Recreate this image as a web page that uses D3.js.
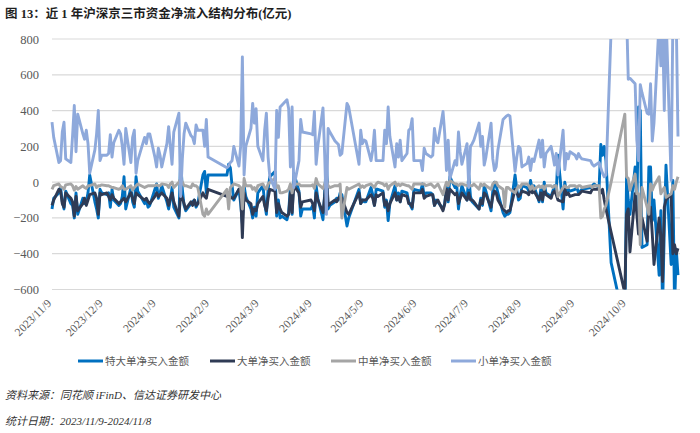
<!DOCTYPE html>
<html><head><meta charset="utf-8">
<script src="https://cdn.jsdelivr.net/npm/d3@7"></script>
<style>body{margin:0;background:#fff}svg{display:block}</style>
</head><body>
<svg id="c" width="700" height="433"></svg>
<script>
// ---- data ----
const startDate = "2023-11-09", endDate = "2024-11-08";
const holidays = ["2024-01-01","2024-02-09","2024-02-12","2024-02-13","2024-02-14","2024-02-15","2024-02-16",
  "2024-04-04","2024-04-05","2024-05-01","2024-05-02","2024-05-03","2024-06-10","2024-09-16","2024-09-17",
  "2024-10-01","2024-10-02","2024-10-03","2024-10-04","2024-10-07"];
const yTicks = [-600,-400,-200,0,200,400,600,800];
const xTickLabels = ["2023/11/9","2023/12/9","2024/1/9","2024/2/9","2024/3/9","2024/4/9","2024/5/9",
  "2024/6/9","2024/7/9","2024/8/9","2024/9/9","2024/10/9"];
const seriesNames = ["特大单净买入金额","大单净买入金额","中单净买入金额","小单净买入金额"];

// 特大单
const xlNet = [
 -150,-90,-60,-30,-110,-150,-50,-120,-130,-200,-60,-180,-90,-120,-110,-60,
 40,-110,-150,-200,-40,-60,-70,-60,-140,-40,-100,-130,-120,-80,30,-150,-30,-110,-140,30,-50,
 -120,-100,-140,-130,-40,-10,-90,-60,-20,-110,-150,-100,-30,-140,-200,130,-40,-130,-160,-120,-110,-100,
 -140,-120,40,60,-60,40,40,100,80,-20,-100,-40,-120,-230,-20,
 -80,-150,-200,-140,-190,-60,-20,-120,-180,-40,30,60,-190,-100,-200,-190,-210,-170,-20,-180,50,
 -50,-190,-150,-150,-130,-200,-20,-90,-210,-60,120,-150,-130,-110,-90,-100,-60,-70,-245,-200,
 -40,-120,-100,-110,-110,-30,-70,-130,-40,-40,-50,-140,-100,-215,-120,-20,-100,-60,-110,-50,
 -60,-110,-130,-150,-40,-50,-10,-80,-60,-60,-70,-130,-100,-110,-150,-120,-20,-110,30,
 -30,-20,-150,-70,-20,-100,40,-80,-110,-120,-150,-90,-130,-20,-50,-160,-50,0,-20,-60,-170,-190,-180,
 -180,-170,40,-40,-100,-90,-20,-30,-50,10,-40,-20,-110,-40,-110,0,-60,-80,-50,-20,-60,150,
 -150,0,-60,-40,-50,-40,-30,-60,-50,-40,-30,-20,-10,-30,210,150,200,120,-450,
 -800,30,-100,-180,85,-150,420,400,-365,-350,85,85,-215,-100,-520,-160,-700,-275,
 95,-460,10,-700,-375,-520
];
// 大单
const lNet = [
 -130,-100,-40,-50,-120,-140,-60,-90,-110,-190,-80,-160,-120,-90,-130,-100,
 -70,-60,-90,-180,-60,-70,-60,-80,-100,-70,-90,-120,-110,-100,-90,-110,-60,-90,-120,-60,-70,
 -100,-90,-110,-120,-80,-60,-80,-70,-60,-90,-130,-90,-60,-110,-190,-70,-90,-120,-150,-110,-130,-100,
 -130,-120,-60,-80,-90,-40,-80,-60,-80,-90,-90,-40,-60,-310,-60,
 -100,-120,-180,-150,-160,-120,-80,-130,-160,-90,-40,-50,-170,-120,-150,-170,-190,-180,-60,-170,-20,
 -60,-140,-110,-100,-120,-160,-60,-100,-170,-80,50,-130,-120,-100,-110,-90,-80,-90,-170,-180,
 -60,-120,-100,-100,-100,-70,-90,-130,-70,-80,-60,-130,-110,-160,-120,-60,-100,-80,-110,-70,
 -80,-120,-120,-140,-60,-60,-40,-90,-80,-70,-70,-130,-110,-100,-160,-120,-40,-100,-40,
 -70,-60,-120,-90,-60,-100,-60,-100,-100,-110,-150,-100,-120,-60,-70,-140,-80,-50,-60,-100,-150,-160,-170,
 -160,-160,-40,-60,-80,-70,-50,-60,-70,-30,-60,-50,-100,-60,-100,-40,-70,-90,-60,-50,-70,-100,
 -110,-40,-70,-60,-80,-70,-70,-70,-60,-50,-60,-40,-40,-40,-60,-40,-100,-150,-280,
 -620,-180,-150,-390,-65,-180,-290,-290,-200,-330,-140,-140,-290,-460,-200,-300,-555,-140,
 -100,-65,-400,-350,-400,-370
];
// 中单
const mNet = [
 -40,-20,-10,-25,-30,-40,-15,-10,-20,-45,-25,-40,-20,-30,-35,-20,
 -20,-10,-30,-20,-20,-15,-20,-20,-25,-30,-30,-40,-35,-20,-40,-40,-20,-45,-30,-20,-10,
 -30,-25,-20,-20,-20,-15,-20,-20,-10,-15,-30,-10,0,-30,0,20,0,-20,-20,-30,-10,-20,
 -20,-30,-180,-190,-150,-180,-40,-150,-30,-20,-10,-20,-30,-150,20,
 -20,-20,-40,-30,-50,-20,-10,-30,-40,-10,0,20,-30,-20,-60,-60,-50,-40,-10,-60,-10,
 -10,-20,-20,-20,-15,-35,20,-10,-35,-10,10,-20,-30,-20,-20,-20,-10,-200,-30,-40,
 -10,-30,-20,-30,-20,-10,-20,-30,-10,0,-10,-20,-10,-40,-20,0,-20,-10,-20,-10,
 -20,-20,-30,-40,-10,-10,-10,-10,-20,-10,-20,-30,-20,-10,-70,-30,0,-20,10,
 -10,-10,-20,-10,-10,-20,-10,-20,-20,-10,-40,-10,-20,-10,-20,-40,-10,0,0,-20,-40,-140,-30,
 -30,-40,-60,-40,-20,-30,-10,-10,-20,-40,-20,-40,-20,-30,-20,-40,-20,-20,-30,-20,-20,-80,
 -30,-20,-30,-30,-20,-20,-30,-20,-20,-30,-20,-30,-20,-20,-200,-190,-150,-130,0,
 380,30,20,-45,45,-65,-65,-350,-30,-140,-180,-10,-45,-20,30,-65,-45,-30,
 -85,-65,-20,-40,0,30
];
// 小单
const sNet = [
 335,250,110,120,280,335,130,110,260,428,170,380,270,240,290,215,
 50,180,270,400,120,150,150,160,265,140,220,290,270,200,100,300,110,250,290,50,120,
 250,215,270,270,140,85,190,150,85,215,310,200,100,280,385,-80,130,270,330,260,250,215,
 320,290,290,200,350,140,80,90,110,120,200,90,200,700,40,
 200,300,440,330,410,200,120,290,385,140,30,-40,400,250,420,430,460,410,85,420,-30,
 120,350,280,270,265,395,100,200,415,150,-180,300,280,230,220,210,150,160,440,420,
 100,290,215,235,230,120,180,290,120,120,120,290,215,420,255,85,215,140,235,120,
 160,290,300,355,120,120,65,190,160,140,150,300,235,220,395,270,65,235,20,
 120,95,280,170,100,215,-30,200,215,235,330,200,255,95,140,330,130,65,85,180,350,360,370,
 375,370,60,140,200,190,85,105,140,65,130,115,235,140,235,85,160,200,150,95,160,40,
 290,70,160,130,170,150,130,160,140,130,120,100,90,110,80,50,30,40,850,
 1100,950,575,580,550,235,120,545,500,385,380,550,230,330,900,650,900,400,
 950,10,900,900,900,255
];
const seriesColors = ["#0070C0","#2F3B55","#A5A5A5","#8EA9DB"];

// ---- build ----
const fmt = d3.timeFormat("%Y-%m-%d");
const p = d3.timeParse("%Y-%m-%d");
const t0 = p(startDate), t1 = p(endDate);
const hol = new Set(holidays);
const days = d3.timeDay.range(t0, d3.timeDay.offset(t1, 1))
  .filter(d => d.getDay() !== 0 && d.getDay() !== 6 && !hol.has(fmt(d)));

const svg = d3.select("#c");
const L = 52, R = 678, T = 39, B = 289.5;
const x = d3.scaleTime().domain([t0, t1]).range([L, R]);
const y = d3.scaleLinear().domain([-600, 800]).range([B, T]);
const serif = "'Liberation Serif','Noto Sans CJK SC',serif";
const cjk = "'Noto Sans CJK SC','Liberation Serif',sans-serif";

// title
svg.append("text").attr("x", 5).attr("y", 18)
  .attr("font-family", serif).attr("font-weight", "bold").attr("font-size", 12.5).attr("fill", "#1f1f1f")
  .text("图 13：近 1 年沪深京三市资金净流入结构分布(亿元)");

// grid
svg.append("g").selectAll("line").data(yTicks).join("line")
  .attr("x1", L).attr("x2", 680).attr("y1", d => y(d)).attr("y2", d => y(d))
  .attr("stroke", "#d9d9d9").attr("stroke-width", 1.2);

// y labels
const yAxis = d3.axisLeft(y).tickValues(yTicks).tickSize(0).tickPadding(0).tickFormat(d3.format("d"));
const ga = svg.append("g").attr("transform", `translate(${L - 13},0)`).call(yAxis);
ga.select(".domain").remove();
ga.selectAll("text").attr("font-family", serif).attr("font-size", 12.5).attr("fill", "#595959");

// x labels
const pl = d3.timeParse("%Y/%m/%d");
svg.append("g").selectAll("text").data(xTickLabels).join("text")
  .attr("transform", d => `translate(${x(pl(d))},${304}) rotate(-45)`)
  .attr("text-anchor", "end")
  .attr("font-family", serif).attr("font-size", 11.5).attr("fill", "#595959")
  .text(d => d);

// lines
svg.append("clipPath").attr("id", "clip").append("rect")
  .attr("x", 0).attr("y", T).attr("width", 700).attr("height", B - T);
const allSeries = [xlNet, lNet, mNet, sNet];
const gl = svg.append("g").attr("clip-path", "url(#clip)");
allSeries.forEach((vals, i) => {
  const n = Math.min(vals.length, days.length);
  const pts = d3.range(n).map(k => [days[k], vals[k]]);
  gl.append("path").datum(pts)
    .attr("fill", "none").attr("stroke", seriesColors[i]).attr("stroke-width", 2.9)
    .attr("stroke-linejoin", "round")
    .attr("d", d3.line().x(d => x(d[0])).y(d => y(d[1])));
});

// legend
const legX = [78, 210, 331, 451];
const lg = svg.append("g").selectAll("g").data(seriesNames).join("g")
  .attr("transform", (d, i) => `translate(${legX[i]},361)`);
lg.append("line").attr("x1", 0).attr("x2", 25).attr("y1", 0).attr("y2", 0)
  .attr("stroke", (d, i) => seriesColors[i]).attr("stroke-width", 3);
lg.append("text").attr("x", 27).attr("y", 4)
  .attr("font-family", cjk).attr("font-size", 10.5).attr("fill", "#595959").text(d => d);

// notes
svg.append("text").attr("x", 5).attr("y", 399).attr("font-family", serif).attr("font-style", "italic")
  .attr("font-size", 11).attr("fill", "#333").text("资料来源：同花顺 iFinD、信达证券研发中心");
svg.append("text").attr("x", 5).attr("y", 425).attr("font-family", serif).attr("font-style", "italic")
  .attr("font-size", 11).attr("fill", "#333").text("统计日期：2023/11/9-2024/11/8");
</script>
</body></html>
